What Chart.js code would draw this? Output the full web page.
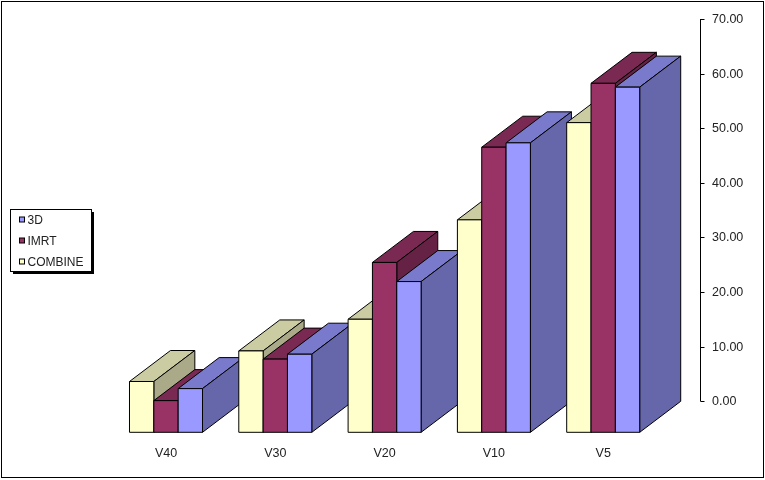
<!DOCTYPE html>
<html>
<head>
<meta charset="utf-8">
<title>Chart</title>
<script src="https://cdn.jsdelivr.net/npm/chart.js@4"></script>
<style>
    html, body { margin: 0; padding: 0; background: #fff; }
    canvas { display: block; }
</style>
</head>
<body>
<canvas id="chart" width="765" height="480"></canvas>
<script>
const categories = ["V40", "V30", "V20", "V10", "V5"];
const combineValues = [9.3, 14.9, 20.7, 38.9, 56.7];
const imrtValues = [5.8, 13.4, 31.1, 52.2, 63.9];
const threeDValues = [8.0, 14.3, 27.6, 53.0, 63.2];

// colours per series: front, top face, side face
const combineColors = ["#FFFFCC", "#CCCCA3", "#AAAA88"];
const imrtColors = ["#993366", "#7A2952", "#662244"];
const threeDColors = ["#9999FF", "#7A7ACC", "#6666AA"];

const depthX = 41;
const depthY = 31;
const textColor = "#222";
const fontFamily = "'Liberation Sans', Arial, sans-serif";

function face(ctx, points, fill) {
    ctx.beginPath();
    points.forEach((p, i) => (i ? ctx.lineTo(p[0], p[1]) : ctx.moveTo(p[0], p[1])));
    ctx.closePath();
    ctx.fillStyle = fill;
    ctx.fill();
    ctx.strokeStyle = "#000";
    ctx.lineWidth = 1;
    ctx.stroke();
}

// bars with a depth: drawn group by group, left to right, so each one covers the one before
const depthBars = {
    id: "depthBars",
    beforeDatasetDraw() {
        return false;
    },
    afterDatasetsDraw(chart) {
        const ctx = chart.ctx;
        chart.data.labels.forEach((_, c) => {
            chart.data.datasets.forEach((ds, i) => {
                const bar = chart.getDatasetMeta(i).data[c];
                const { x, y, base, width } = bar.getProps(["x", "y", "base", "width"], true);
                const l = x - width / 2;
                const r = x + width / 2;
                face(ctx, [[l, y], [l + depthX, y - depthY], [r + depthX, y - depthY], [r, y]], ds.topColor);
                face(ctx, [[r, y], [r + depthX, y - depthY], [r + depthX, base - depthY], [r, base]], ds.sideColor);
                face(ctx, [[l, y], [r, y], [r, base], [l, base]], ds.backgroundColor);
            });
        });
    },
};

// value axis sits on the back plane, so it is the y scale moved by the depth
const backAxis = {
    id: "backAxis",
    afterDraw(chart) {
        const ctx = chart.ctx;
        const scale = chart.scales.y;
        const axisX = 700.5;
        ctx.save();
        ctx.strokeStyle = "#000";
        ctx.lineWidth = 1;
        ctx.beginPath();
        ctx.moveTo(axisX, scale.getPixelForValue(scale.min) - depthY);
        ctx.lineTo(axisX, scale.getPixelForValue(scale.max) - depthY);
        ctx.fillStyle = textColor;
        ctx.font = "12.5px " + fontFamily;
        ctx.textBaseline = "middle";
        scale.ticks.forEach((tick) => {
            const py = Math.round(scale.getPixelForValue(tick.value) - depthY) + 0.5;
            ctx.moveTo(axisX, py);
            ctx.lineTo(axisX + 4, py);
            ctx.fillText(tick.label, 712, py + 0.5);
        });
        ctx.stroke();
        ctx.restore();
    },
};

const boxLegend = {
    id: "boxLegend",
    afterDraw(chart) {
        const ctx = chart.ctx;
        ctx.save();
        ctx.fillStyle = "#000";
        ctx.fillRect(13, 212, 81, 62);
        ctx.fillStyle = "#fff";
        ctx.fillRect(10, 209, 81, 62);
        ctx.strokeStyle = "#000";
        ctx.lineWidth = 1;
        ctx.strokeRect(10.5, 209.5, 81, 62);
        ctx.font = "12px " + fontFamily;
        ctx.textBaseline = "middle";
        const rows = chart.data.datasets.slice().reverse();
        rows.forEach((ds, i) => {
            const rowY = 219.5 + i * 21;
            ctx.fillStyle = ds.backgroundColor;
            ctx.fillRect(19.5, rowY - 2.5, 5, 5);
            ctx.strokeRect(19.5, rowY - 2.5, 5, 5);
            ctx.fillStyle = textColor;
            ctx.fillText(ds.label, 27.5, rowY + 1);
        });
        // outer frame of the picture
        ctx.strokeRect(1.5, 1.5, 762, 476);
        ctx.restore();
    },
};

new Chart(document.getElementById("chart"), {
    type: "bar",
    plugins: [depthBars, backAxis, boxLegend],
    data: {
        labels: categories,
        datasets: [
            { label: "COMBINE", data: combineValues, backgroundColor: combineColors[0], topColor: combineColors[1], sideColor: combineColors[2] },
            { label: "IMRT", data: imrtValues, backgroundColor: imrtColors[0], topColor: imrtColors[1], sideColor: imrtColors[2] },
            { label: "3D", data: threeDValues, backgroundColor: threeDColors[0], topColor: threeDColors[1], sideColor: threeDColors[2] },
        ],
    },
    options: {
        responsive: false,
        animation: false,
        devicePixelRatio: 1,
        layout: { padding: { left: 111.35, right: 107.15, top: 50, bottom: 0 } },
        datasets: { bar: { barPercentage: 1, categoryPercentage: 0.668 } },
        plugins: {
            legend: { display: false },
            tooltip: { enabled: false },
        },
        scales: {
            x: {
                grid: { display: false, drawTicks: false },
                border: { display: false },
                ticks: {
                    color: textColor,
                    font: { family: fontFamily, size: 12.5 },
                    padding: 14,
                    maxRotation: 0,
                },
                afterFit(scale) {
                    scale.height = 47.7;
                },
            },
            y: {
                display: false,
                min: 0,
                max: 70,
                ticks: { stepSize: 10, callback: (v) => v.toFixed(2) },
            },
        },
    },
});
</script>
</body>
</html>
